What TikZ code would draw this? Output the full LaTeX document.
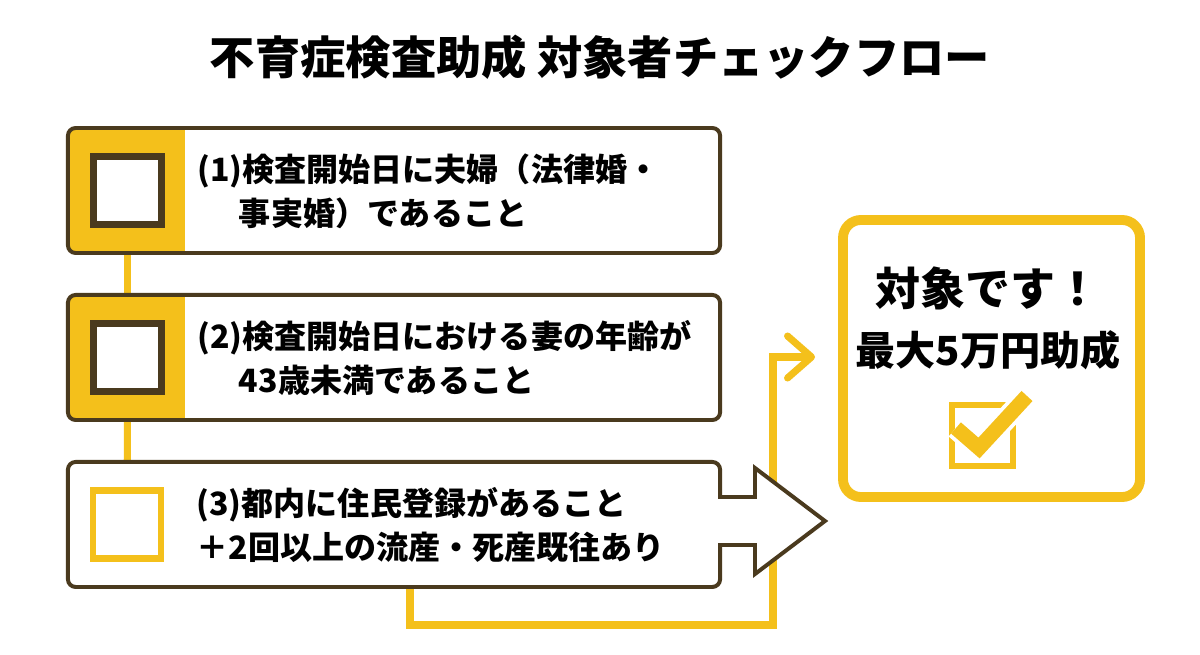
\documentclass[tikz,border=0pt]{standalone}
\usepackage{fontspec}
\setmainfont{Noto Sans CJK JP}
\usetikzlibrary{positioning,arrows.meta}
\definecolor{gold}{HTML}{F4C01B}
\definecolor{umber}{HTML}{4A3A1E}
\pgfdeclarelayer{paper}
\pgfdeclarelayer{under}
\pgfsetlayers{paper,under,main}

\begin{document}
\begin{tikzpicture}[
    x=0.025cm, y=-0.025cm,
    node distance=0.95cm,
    stepbox/.style={rectangle, draw=umber, fill=white, line width=2.8pt, rounded corners=5.5pt,
                minimum width=16.3cm, minimum height=3.125cm, inner sep=0pt},
    goldside/.style={path picture={\fill[gold, sharp corners] (path picture bounding box.south west)
                rectangle ([xshift=2.93cm]path picture bounding box.north west);}},
    tickbox/.style={rectangle, draw=umber, fill=white, line width=5pt,
                minimum size=1.7cm, inner sep=0pt},
    txt/.style={font=\fontsize{22.8}{31.2}\selectfont\bfseries, align=left, inner sep=0pt},
    heading/.style={font=\fontsize{32.2}{36}\selectfont\bfseries, inner sep=0pt},
    goalbox/.style={rectangle, draw=gold, fill=white, line width=7pt, rounded corners=0.45cm,
                minimum width=7.425cm, minimum height=6.925cm, inner sep=0pt},
    tipshape/.style={draw=umber, fill=white, line width=2.8pt, line join=miter},
    link/.style={draw=gold, line width=5pt},
    flow/.style={draw=gold, line width=5pt, shorten >=0.575cm,
                -{Straight Barb[length=0.6cm, width=1.05cm, line cap=round, line join=round]}},
  ]
  \useasboundingbox (0,0) rectangle (1200,655);
  \begin{pgfonlayer}{paper}
    \fill[white] (0,0) rectangle (1200,655);
  \end{pgfonlayer}

  \node[heading] (ttl) at (600,57) {不育症検査助成 対象者チェックフロー};

  % three conditions
  \node[stepbox, goldside] (b1) at (394,190.5) {};
  \node[stepbox, goldside, below=of b1] (b2) {};
  \node[stepbox, below=of b2] (b3) {};
  \fill[white] (717,499) rectangle (723,543);
  \draw[tipshape] (718,497) -- (755,497) -- (755,468) -- (825,521)
      -- (755,574) -- (755,545) -- (718,545);

  \node[tickbox, right=0.6cm of b1.west] (k1) {};
  \node[tickbox, right=0.6cm of b2.west] (k2) {};
  \node[tickbox, draw=gold, line width=4.5pt, right=0.6cm of b3.west] (k3) {};

  \node[txt, right=0.8cm of k1, yshift=-0.02cm] (t1)
      {(1)検査開始日に夫婦（法律婚・\\\hspace*{1.3em}事実婚）であること};
  \node[txt, right=0.8cm of k2, yshift=-0.02cm] (t2)
      {(2)検査開始日における妻の年齢が\\\hspace*{1.3em}43歳未満であること};
  \node[txt, right=0.8cm of k3, yshift=-0.02cm] (t3)
      {(3)都内に住民登録があること\\＋2回以上の流産・死産既往あり};

  % result
  \node[goalbox] (r) at (991.5,358.5) {};
  \node[heading, font=\fontsize{32}{36}\selectfont\bfseries] (r1) at (988,288) {対象です！};
  \node[heading, font=\fontsize{28.5}{34}\selectfont\bfseries] (r2) at (988,350) {最大5万円助成};
  \node[draw=gold, line width=4.3pt, minimum size=1.525cm, inner sep=0pt] (ic) at (982.5,435.5) {};
  \draw[white, line width=16pt, line join=round] (956,428) -- (979,448) -- (1027,396);
  \draw[gold, line width=10.6pt] (956,428) -- (979,448) -- (1027,396);

  % connectors
  \coordinate (drop) at (410,625);
  \coordinate (rise) at (773,357);
  \begin{pgfonlayer}{under}
    \draw[link] (k1) -- (k2);
    \draw[link] (k2) -- (k3);
    \draw[flow] (drop |- b3.center) -- (drop) -| (rise) -- (rise -| r.west);
  \end{pgfonlayer}
\end{tikzpicture}
\end{document}
